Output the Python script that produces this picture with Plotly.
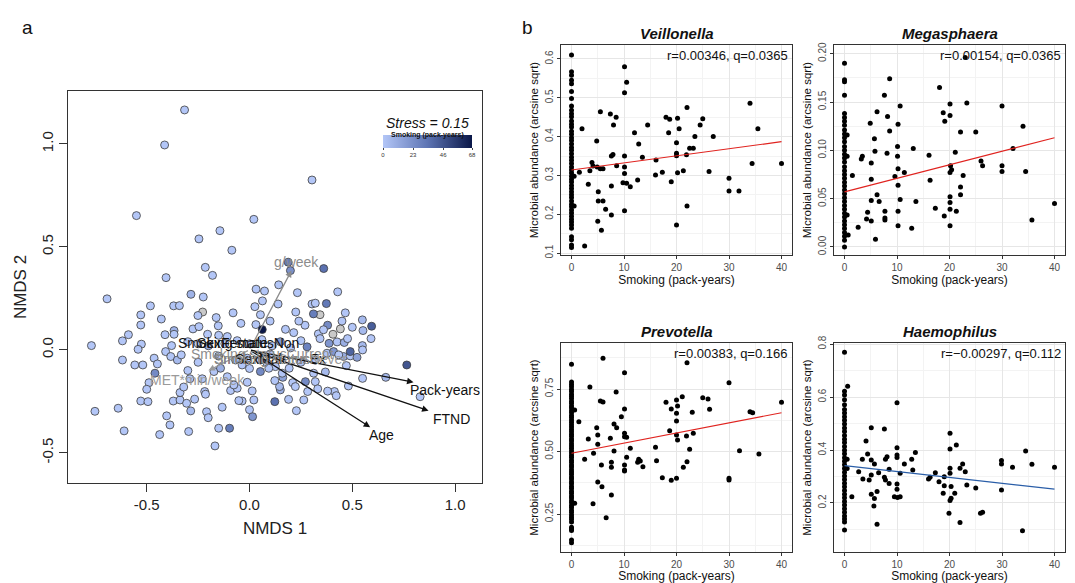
import plotly.graph_objects as go

W, H = 1075, 583

# ---------------- Panel a: NMDS ordination ----------------
nmds1 = [-0.316, -0.413, 0.304, -0.550, 0.021, -0.144, -0.246, -0.086, -0.215, -0.180,
         -0.406, 0.188, 0.199, 0.361, -0.693, -0.285, -0.225, 0.032, 0.073, 0.142,
         0.233, 0.429, -0.482, -0.369, -0.341, -0.529, -0.529, -0.429, -0.251, -0.228,
         -0.162, -0.152, -0.042, 0.026, 0.063, 0.053, 0.031, 0.062, 0.139, 0.225,
         0.175, 0.215, 0.304, 0.320, 0.374, 0.311, 0.343, 0.466, 0.549, 0.594,
         0.552, 0.591, 0.442, 0.406, 0.335, 0.343, 0.387, 0.426, 0.461, 0.477,
         0.549, -0.769, -0.618, -0.589, -0.526, -0.411, -0.367, -0.367, -0.275, -0.246,
         -0.204, -0.150, -0.108, -0.379, -0.752, -0.639, -0.610, -0.618, -0.558, -0.519,
         -0.542, -0.464, -0.448, -0.460, -0.489, -0.500, -0.529, -0.494, -0.403, -0.387,
         -0.437, -0.371, -0.338, -0.306, -0.338, -0.286, -0.296, -0.267, -0.218, -0.214,
         -0.209, -0.201, -0.168, -0.133, -0.097, -0.092, -0.060, -0.036, -0.052, 0.013,
         0.021, 0.015, -0.011, -0.076, 0.123, 0.150, 0.146, 0.123, 0.162, 0.210,
         0.223, 0.228, 0.264, 0.272, 0.283, 0.320, 0.332, 0.312, 0.369, 0.413,
         0.422, 0.481, 0.550, 0.663, 0.765, 0.830, 0.471, 0.458, 0.490, 0.523,
         0.550, 0.490, 0.377, 0.409, 0.434, 0.126, 0.159, 0.193, -0.173, -0.141,
         -0.108, -0.408, -0.383, -0.351, -0.332, 0.053, 0.053, 0.086, 0.094, -0.011,
         -0.036, -0.068, -0.300, -0.250, -0.200, -0.120, -0.060, 0.000, 0.060, 0.110,
         0.150, 0.200, 0.250, 0.280, 0.320, 0.250, 0.100, -0.150, -0.250, -0.300,
         -0.230, 0.000, 0.270, 0.240, 0.380, 0.450, 0.500, 0.360, 0.100, -0.080,
         0.000, -0.150, -0.290, -0.320, 0.190, 0.380]
nmds2 = [1.165, 0.995, 0.825, 0.652, 0.634, 0.579, 0.539, 0.484, 0.401, 0.362,
         0.351, 0.426, 0.385, 0.395, 0.248, 0.270, 0.257, 0.295, 0.286, 0.316,
         0.278, 0.282, 0.214, 0.214, 0.215, 0.170, 0.121, 0.150, 0.167, 0.184,
         0.157, 0.117, 0.129, 0.210, 0.238, 0.171, 0.123, 0.099, 0.223, 0.184,
         0.100, 0.084, 0.223, 0.227, 0.225, 0.175, 0.171, 0.180, 0.146, 0.115,
         0.094, 0.055, 0.102, 0.076, 0.078, 0.055, 0.032, 0.039, 0.036, 0.055,
         0.021, 0.021, 0.044, 0.074, 0.028, 0.074, 0.094, 0.076, 0.102, 0.113,
         0.076, 0.071, 0.065, 0.021, -0.298, -0.283, -0.393, -0.049, -0.073, -0.073,
         0.003, -0.040, -0.068, -0.113, -0.159, -0.191, -0.248, -0.251, -0.320, -0.364,
         -0.411, -0.248, -0.243, -0.259, -0.207, -0.296, -0.396, -0.239, -0.202, -0.215,
         -0.300, -0.329, -0.466, -0.278, -0.380, -0.197, -0.186, -0.248, -0.246, -0.199,
         -0.243, -0.324, -0.157, -0.170, -0.251, -0.194, -0.178, -0.149, -0.133, -0.159,
         -0.178, -0.295, -0.243, -0.154, -0.202, -0.154, -0.189, -0.113, -0.107, -0.202,
         -0.222, -0.175, -0.138, -0.133, -0.073, -0.227, -0.076, -0.032, -0.029, -0.036,
         0.000, -0.008, -0.016, -0.008, -0.024, -0.081, -0.113, -0.089, -0.105, -0.089,
         -0.130, -0.008, -0.032, -0.049, -0.024, -0.105, -0.049, -0.065, -0.089, -0.040,
         -0.073, -0.049, 0.040, 0.030, 0.020, 0.030, 0.045, 0.030, 0.050, 0.020,
         0.040, 0.010, 0.045, 0.015, -0.050, -0.060, -0.020, -0.030, -0.060, -0.100,
         -0.140, -0.090, 0.120, 0.140, 0.120, 0.140, 0.110, 0.098, 0.140, 0.180,
         -0.290, -0.380, -0.140, -0.180, -0.240, -0.200]
pack_years = [0, 0, 0, 0, 0, 0, 0, 0, 0, 0,
              0, 30, 22, 35, 0, 8, 0, 0, 0, 0,
              0, 0, 0, 0, 0, 0, 0, 0, 0, None,
              0, 0, 0, 0, 0, 0, 0, 68, 0, 0,
              0, 0, 0, 0, 32, 30, None, 0, 5, 42,
              5, 0, None, None, 0, 0, 20, 0, 10, 0,
              5, 0, 0, 0, 0, 0, 8, 0, 0, 0,
              0, 0, 0, 0, 0, 0, 0, 0, 0, 0,
              0, 0, 0, 25, 0, 0, 0, 0, 0, 0,
              0, 0, 0, 0, 0, 5, 0, 0, 0, 0,
              0, 0, 0, 0, 30, 0, 0, 0, 0, 0,
              0, 20, 0, 0, 35, 10, 5, 0, 15, 0,
              0, 0, 0, 25, 0, 0, 0, 0, 5, 0,
              0, 0, 0, 5, 45, 0, 0, 10, 0, 15,
              0, 40, 0, 20, 0, 0, 0, 0, 0, 10,
              0, 0, 0, 5, 0, 25, 0, 0, 0, 0,
              0, 0, 0, 0, 12, 0, 0, 0, 0, 0,
              18, 0, 0, 28, 0, 0, 0, 0, 0, 0,
              0, 0, 0, 0, 25, 0, 0, 0, 0, 0,
              0, 0, 0, 0, 0, 0]

vec_labels = ['Pack-years', 'FTND', 'Age', 'g/week', 'MET*min/week']
vec_x = [0.798, 0.871, 0.587, 0.204, -0.200]
vec_y = [-0.157, -0.295, -0.375, 0.385, -0.100]
vec_lab_x = [0.951, 0.981, 0.641, 0.228, -0.252]
vec_lab_y = [-0.194, -0.335, -0.413, 0.426, -0.146]
vec_color = ['#111111', '#111111', '#111111', '#8c8c8c', '#9a9a9a']

fac_labels = ['Smoking statusNon', 'SexFemale', 'Smoking statusCurrent',
              'Smoking statusEx', 'SexMale', 'Smoking statusNever']
fac_x = [-0.053, -0.083, 0.063, 0.102, 0.063, 0.150]
fac_y = [0.034, 0.034, -0.019, -0.044, -0.044, -0.044]
fac_color = ['#111111', '#111111', '#8c8c8c', '#111111', '#111111', '#9a9a9a']

stress_text = 'Stress = 0.15'
color_title = 'Smoking (pack-years)'
color_ticks = [0, 23, 46, 68]

# ---------------- Panel b: genus vs smoking ----------------
genera = ['Veillonella', 'Megasphaera', 'Prevotella', 'Haemophilus']
stats_text = ['r=0.00346, q=0.0365', 'r=0.00154, q=0.0365',
              'r=0.00383, q=0.166', 'r=\u22120.00297, q=0.112']
fit_x = [0, 40]
fit_y = [[0.314, 0.387], [0.057, 0.113], [0.493, 0.655], [0.341, 0.252]]
fit_color = ['#e0231f', '#e0231f', '#e0231f', '#2a5ea8']

veil_zero_y = [0.610, 0.567, 0.558, 0.545, 0.536, 0.516, 0.498, 0.479, 0.468, 0.459,
               0.451, 0.440, 0.432, 0.425, 0.414, 0.406, 0.397, 0.390, 0.381, 0.372,
               0.365, 0.356, 0.347, 0.339, 0.331, 0.322, 0.314, 0.306, 0.298, 0.290,
               0.283, 0.274, 0.266, 0.258, 0.250, 0.243, 0.234, 0.226, 0.219, 0.211,
               0.203, 0.195, 0.187, 0.180, 0.172, 0.164, 0.142, 0.134, 0.121, 0.114]
veil_x = [4.8, 12.8, 20.0, 20.0, 20.0, 22.5, 23.2, 21.9, 21.3, 20.2, 19.0, 17.3, 16.0, 16.1,
          13.5, 12.6, 11.2, 10.5, 9.8, 10.1, 10.1, 10.1, 10.1, 8.6, 7.9, 7.6, 7.6, 7.6, 6.5,
          6.0, 5.1, 5.1, 5.0, 5.7, 6.0, 5.5, 4.9, 4.1, 3.9, 3.5, 3.2, 1.5, 0.5, 0.5, 2.5,
          26.2, 30.0, 30.0, 31.9, 34.4, 40.0, 22.0, 20.0, 10.1, 10.5, 10.1, 5.5, 7.4, 8.5,
          18.0, 18.7, 20.2, 22.0, 25.0, 34.0, 2.0, 8.0, 12.0, 14.5, 18.5, 20.5, 23.5, 24.5,
          27.0, 35.5]
veil_y = [0.389, 0.381, 0.384, 0.357, 0.351, 0.370, 0.370, 0.353, 0.312, 0.307, 0.284, 0.308,
          0.301, 0.340, 0.347, 0.288, 0.271, 0.280, 0.281, 0.305, 0.322, 0.350, 0.209, 0.325,
          0.354, 0.350, 0.273, 0.198, 0.213, 0.234, 0.234, 0.258, 0.182, 0.159, 0.317, 0.317,
          0.322, 0.324, 0.333, 0.312, 0.277, 0.308, 0.298, 0.221, 0.118, 0.310, 0.293, 0.260,
          0.260, 0.331, 0.331, 0.221, 0.172, 0.580, 0.540, 0.513, 0.464, 0.458, 0.450, 0.450,
          0.445, 0.447, 0.475, 0.446, 0.486, 0.420, 0.430, 0.410, 0.430, 0.410, 0.420, 0.400,
          0.430, 0.400, 0.420]

mega_zero_y = [0.190, 0.173, 0.171, 0.157, 0.138, 0.134, 0.130, 0.126, 0.121, 0.117,
               0.113, 0.109, 0.104, 0.100, 0.096, 0.092, 0.088, 0.083, 0.079, 0.075,
               0.071, 0.067, 0.063, 0.059, 0.055, 0.051, 0.047, 0.043, 0.039, 0.035,
               0.031, 0.027, 0.023, 0.019, 0.015, 0.011, 0.007, 0.000]
mega_x = [8.6, 7.6, 10.6, 6.2, 8.2, 4.9, 10.2, 8.6, 5.7, 10.1, 13.1, 8.1, 5.8, 3.4, 3.2,
          10.1, 16.1, 5.1, 18.1, 20.1, 23.3, 23.0, 18.8, 20.1, 19.1, 22.1, 25.0, 30.0, 34.0,
          21.1, 26.0, 26.3, 30.0, 32.1, 20.2, 20.4, 20.1, 1.5, 0.7, 0.5, 2.6, 5.1, 5.1, 4.2,
          4.4, 5.1, 6.2, 6.6, 5.9, 7.7, 7.7, 7.7, 9.6, 10.2, 10.2, 10.2, 10.2, 10.6, 11.4,
          13.6, 12.8, 16.3, 17.3, 19.0, 20.1, 20.1, 20.1, 20.1, 21.3, 22.1, 22.1, 22.6, 30.0,
          34.5, 35.7, 40.0, 0.5, 0.5]
mega_y = [0.174, 0.157, 0.146, 0.140, 0.135, 0.128, 0.127, 0.120, 0.112, 0.104, 0.102, 0.097,
          0.099, 0.094, 0.091, 0.094, 0.095, 0.087, 0.165, 0.148, 0.149, 0.196, 0.139, 0.136,
          0.130, 0.119, 0.119, 0.146, 0.125, 0.098, 0.089, 0.084, 0.084, 0.102, 0.084, 0.080,
          0.077, 0.074, 0.0125, 0.033, 0.0205, 0.070, 0.048, 0.029, 0.036, 0.027, 0.054, 0.047,
          0.008, 0.037, 0.030, 0.028, 0.073, 0.081, 0.064, 0.037, 0.022, 0.049, 0.077, 0.047,
          0.0195, 0.069, 0.040, 0.032, 0.052, 0.046, 0.039, 0.022, 0.037, 0.062, 0.054, 0.074,
          0.078, 0.078, 0.028, 0.045, 0.094, 0.116]

prev_zero_y = [0.849, 0.778, 0.768, 0.759, 0.748, 0.740, 0.729, 0.721, 0.712, 0.701,
               0.693, 0.682, 0.674, 0.663, 0.655, 0.644, 0.636, 0.626, 0.617, 0.607,
               0.598, 0.588, 0.579, 0.569, 0.561, 0.550, 0.542, 0.531, 0.522, 0.513,
               0.503, 0.494, 0.484, 0.476, 0.465, 0.457, 0.446, 0.438, 0.427, 0.418,
               0.409, 0.398, 0.390, 0.379, 0.371, 0.360, 0.352, 0.341, 0.333, 0.322,
               0.314, 0.303, 0.295, 0.284, 0.276, 0.265, 0.257, 0.246, 0.237, 0.229,
               0.218, 0.197, 0.190, 0.184, 0.146, 0.135]
prev_x = [6.0, 10.1, 22.0, 30.0, 3.5, 8.5, 5.5, 6.0, 0.6, 10.1, 1.4, 9.5, 8.1, 8.6, 4.8, 5.0,
          3.2, 7.4, 10.1, 10.1, 10.5, 5.0, 11.2, 8.1, 4.2, 2.5, 10.5, 7.6, 7.6, 5.7, 10.1, 10.1,
          10.1, 12.8, 13.1, 12.6, 13.6, 16.0, 16.2, 17.3, 18.0, 19.0, 18.7, 19.0, 20.0, 20.2,
          20.0, 20.0, 20.0, 20.2, 20.0, 21.1, 21.9, 22.0, 21.3, 22.5, 23.0, 23.2, 25.0, 26.0,
          26.3, 30.0, 30.0, 32.0, 34.0, 34.5, 35.7, 40.0, 5.8, 5.0, 7.6, 4.1, 0.6, 6.6]
prev_y = [0.873, 0.815, 0.855, 0.775, 0.758, 0.738, 0.702, 0.698, 0.666, 0.670, 0.619, 0.639,
          0.610, 0.595, 0.595, 0.566, 0.550, 0.553, 0.573, 0.559, 0.557, 0.529, 0.513, 0.502,
          0.493, 0.469, 0.477, 0.457, 0.437, 0.446, 0.446, 0.426, 0.422, 0.469, 0.462, 0.457,
          0.439, 0.517, 0.463, 0.395, 0.697, 0.670, 0.583, 0.385, 0.706, 0.682, 0.653, 0.622,
          0.566, 0.546, 0.393, 0.719, 0.562, 0.459, 0.437, 0.509, 0.657, 0.573, 0.715, 0.710,
          0.669, 0.393, 0.386, 0.503, 0.659, 0.655, 0.490, 0.697, 0.359, 0.378, 0.326, 0.291,
          0.293, 0.235]

haem_zero_y = [0.769, 0.622, 0.608, 0.590, 0.571, 0.553, 0.540, 0.526, 0.512, 0.498,
               0.483, 0.470, 0.455, 0.441, 0.428, 0.413, 0.399, 0.386, 0.371, 0.358,
               0.344, 0.330, 0.316, 0.302, 0.289, 0.275, 0.261, 0.247, 0.233, 0.220,
               0.206, 0.192, 0.178, 0.165, 0.151, 0.140, 0.128, 0.098]
haem_x = [0.6, 10.0, 5.1, 7.6, 4.1, 4.4, 10.0, 10.0, 10.0, 8.1, 7.8, 5.1, 3.4, 5.7, 11.4, 13.5,
          12.8, 13.0, 8.5, 2.7, 3.5, 5.1, 6.5, 4.7, 7.6, 7.8, 8.5, 10.0, 10.0, 10.6, 9.5, 10.1,
          10.6, 5.1, 5.7, 6.2, 5.6, 6.2, 1.4, 16.0, 16.3, 17.3, 18.0, 19.0, 19.0, 18.8, 20.1,
          20.1, 20.1, 20.1, 20.3, 20.1, 20.3, 19.9, 21.0, 21.3, 22.0, 22.5, 23.0, 23.3, 22.0,
          25.0, 25.9, 26.3, 29.9, 29.9, 29.9, 32.0, 34.5, 35.7, 33.9, 40.0, 0.5, 0.5]
haem_y = [0.641, 0.578, 0.484, 0.479, 0.434, 0.385, 0.409, 0.381, 0.372, 0.375, 0.365, 0.362,
          0.365, 0.347, 0.347, 0.391, 0.365, 0.325, 0.327, 0.318, 0.291, 0.306, 0.314, 0.287,
          0.297, 0.287, 0.274, 0.272, 0.252, 0.312, 0.224, 0.221, 0.224, 0.233, 0.217, 0.243,
          0.189, 0.120, 0.224, 0.291, 0.297, 0.314, 0.280, 0.299, 0.265, 0.237, 0.463, 0.404,
          0.331, 0.312, 0.262, 0.209, 0.218, 0.161, 0.237, 0.419, 0.331, 0.347, 0.318, 0.268,
          0.126, 0.257, 0.161, 0.165, 0.249, 0.360, 0.347, 0.335, 0.396, 0.346, 0.095, 0.335,
          0.330, 0.365]

y_ranges = [[0.095, 0.636], [-0.0083, 0.209], [0.098, 0.934], [0.015, 0.804]]
y_ticks = [[0.1, 0.2, 0.3, 0.4, 0.5, 0.6], [0.0, 0.05, 0.10, 0.15, 0.20],
           [0.25, 0.50, 0.75], [0.2, 0.4, 0.6, 0.8]]
y_tick_fmt = ['.1f', '.2f', '.2f', '.1f']
y_minor = [0.05, 0.025, 0.125, 0.1]
x_ticks = [0, 10, 20, 30, 40]

# ---------------- build figure ----------------
FONT = 'Liberation Sans, Arial, sans-serif'
fig = go.Figure()


def px_dom_x(a, b):
    return [a / W, b / W]


def px_dom_y(top, bottom):
    return [1 - bottom / H, 1 - top / H]


# panel a points
col_x = [x for x, c in zip(nmds1, pack_years) if c is not None]
col_y = [y for y, c in zip(nmds2, pack_years) if c is not None]
col_c = [c for c in pack_years if c is not None]
na_x = [x for x, c in zip(nmds1, pack_years) if c is None]
na_y = [y for y, c in zip(nmds2, pack_years) if c is None]

fig.add_trace(go.Scatter(
    x=na_x, y=na_y, mode='markers', xaxis='x', yaxis='y', hoverinfo='skip',
    marker=dict(size=8, color='#c9c9c9', line=dict(color='#3c3c3c', width=0.8))))
fig.add_trace(go.Scatter(
    x=col_x, y=col_y, mode='markers', xaxis='x', yaxis='y',
    marker=dict(size=8, color=col_c, cmin=0, cmax=68,
                colorscale=[[0, '#b3c6f7'], [0.5, '#5d74b3'], [1, '#0a1748']],
                line=dict(color='#3c3c3c', width=0.8),
                showscale=True,
                colorbar=dict(orientation='h', x=427.5 / W, xanchor='center',
                              y=1 - 135 / H, yanchor='top',
                              len=89, lenmode='pixels', thickness=13,
                              tickvals=color_ticks, ticks='outside', ticklen=2,
                              tickfont=dict(size=6, family=FONT, color='#333'),
                              outlinewidth=0, xpad=0, ypad=0, title=dict(text='')))))

annotations = []
for lab, vx, vy, lx, ly, c in zip(vec_labels, vec_x, vec_y, vec_lab_x, vec_lab_y, vec_color):
    annotations.append(dict(x=vx, y=vy, ax=0, ay=0, xref='x', yref='y', axref='x', ayref='y',
                            showarrow=True, arrowhead=2, arrowsize=1, arrowwidth=1.3,
                            arrowcolor=c, text=''))
    annotations.append(dict(x=lx, y=ly, xref='x', yref='y', text=lab, showarrow=False,
                            font=dict(size=14, family=FONT, color=c)))
for lab, fx, fy, c in zip(fac_labels, fac_x, fac_y, fac_color):
    annotations.append(dict(x=fx, y=fy, xref='x', yref='y', text=lab, showarrow=False,
                            font=dict(size=14, family=FONT, color=c)))
annotations.append(dict(x=427 / W, y=1 - 113 / H, xref='paper', yref='paper',
                        text='<i>' + stress_text + '</i>', showarrow=False,
                        font=dict(size=14, family=FONT, color='#111')))
annotations.append(dict(x=427 / W, y=1 - 129 / H, xref='paper', yref='paper',
                        text='<b>' + color_title + '</b>', showarrow=False,
                        font=dict(size=7, family=FONT, color='#111')))
annotations.append(dict(x=20 / W, y=1 - 15 / H, xref='paper', yref='paper', text='a',
                        showarrow=False, font=dict(size=19, family=FONT, color='#111')))
annotations.append(dict(x=527 / W, y=1 - 15 / H, xref='paper', yref='paper', text='b',
                        showarrow=False, font=dict(size=19, family=FONT, color='#111')))

layout = dict(
    width=W, height=H, margin=dict(l=0, r=0, t=0, b=0, autoexpand=False),
    paper_bgcolor='white', plot_bgcolor='white', showlegend=False,
    font=dict(family=FONT),
    xaxis=dict(domain=px_dom_x(68, 482), range=[-0.883, 1.131], automargin=False,
               tickvals=[-0.5, 0, 0.5, 1.0], ticktext=['-0.5', '0.0', '0.5', '1.0'],
               ticks='outside', ticklen=8, tickcolor='#333', showgrid=False, zeroline=False,
               showline=True, mirror=True, linecolor='#333', linewidth=1,
               tickfont=dict(size=15, color='#222'),
               title=dict(text='NMDS 1', font=dict(size=17, color='#222'), standoff=10)),
    yaxis=dict(domain=px_dom_y(91, 483), range=[-0.646, 1.257], automargin=False,
               tickvals=[-0.5, 0, 0.5, 1.0], ticktext=['-0.5', '0.0', '0.5', '1.0'],
               tickangle=-90,
               ticks='outside', ticklen=8, tickcolor='#333', showgrid=False, zeroline=False,
               showline=True, mirror=True, linecolor='#333', linewidth=1,
               tickfont=dict(size=15, color='#222'),
               title=dict(text='NMDS 2', font=dict(size=17, color='#222'), standoff=8)),
)

panel_px = [(561, 792, 45, 255), (834, 1065, 45, 255),
            (561, 792, 343, 552), (834, 1065, 343, 552)]
zero_lists = [veil_zero_y, mega_zero_y, prev_zero_y, haem_zero_y]
nz_x = [veil_x, mega_x, prev_x, haem_x]
nz_y = [veil_y, mega_y, prev_y, haem_y]

for i in range(4):
    k = i + 2
    xa, ya = 'x%d' % k, 'y%d' % k
    l, r, t, b = panel_px[i]
    zx = [0] * len(zero_lists[i])
    fig.add_trace(go.Scatter(x=zx + nz_x[i], y=zero_lists[i] + nz_y[i], mode='markers',
                             xaxis=xa, yaxis=ya, hoverinfo='skip',
                             marker=dict(size=5, color='black')))
    fig.add_trace(go.Scatter(x=fit_x, y=fit_y[i], mode='lines', xaxis=xa, yaxis=ya,
                             hoverinfo='skip', line=dict(color=fit_color[i], width=1.2)))
    layout['xaxis%d' % k] = dict(
        domain=px_dom_x(l, r), anchor=ya, range=[-2, 42], tickvals=x_ticks, automargin=False,
        showgrid=True, gridcolor='#e6e6e6', gridwidth=1,
        minor=dict(tickvals=[5, 15, 25, 35], showgrid=True, gridcolor='#f3f3f3', gridwidth=0.6),
        zeroline=False, showline=True, mirror=True, linecolor='#333', linewidth=1.2,
        ticks='outside', ticklen=3, tickcolor='#333',
        tickfont=dict(size=10, color='#4d4d4d'),
        title=dict(text='Smoking (pack-years)', font=dict(size=12, color='#111'), standoff=1))
    layout['yaxis%d' % k] = dict(
        domain=px_dom_y(t, b), anchor=xa, range=y_ranges[i], tickvals=y_ticks[i],
        tickformat=y_tick_fmt[i], tickangle=-90, automargin=False,
        showgrid=True, gridcolor='#e6e6e6', gridwidth=1,
        minor=dict(dtick=y_minor[i], tick0=0, showgrid=True, gridcolor='#f3f3f3', gridwidth=0.6),
        zeroline=False, showline=True, mirror=True, linecolor='#333', linewidth=1.2,
        ticks='outside', ticklen=3, tickcolor='#333',
        tickfont=dict(size=10, color='#4d4d4d'),
        title=dict(text='Microbial abundance (arcsine sqrt)', font=dict(size=11.5, color='#111'),
                   standoff=2))
    annotations.append(dict(x=0.5, y=1, xref=xa + ' domain', yref=ya + ' domain',
                            yanchor='bottom', yshift=1, showarrow=False,
                            text='<b><i>' + genera[i] + '</i></b>',
                            font=dict(size=15, color='#111')))
    annotations.append(dict(x=0.99, y=0.995, xref=xa + ' domain', yref=ya + ' domain',
                            xanchor='right', yanchor='top', showarrow=False,
                            text=stats_text[i], font=dict(size=13, color='#111')))

layout['annotations'] = annotations
fig.update_layout(**layout)
fig.write_html('out.html', config={'displayModeBar': False},
               post_script="document.body.style.margin='0';document.body.style.padding='0';")
